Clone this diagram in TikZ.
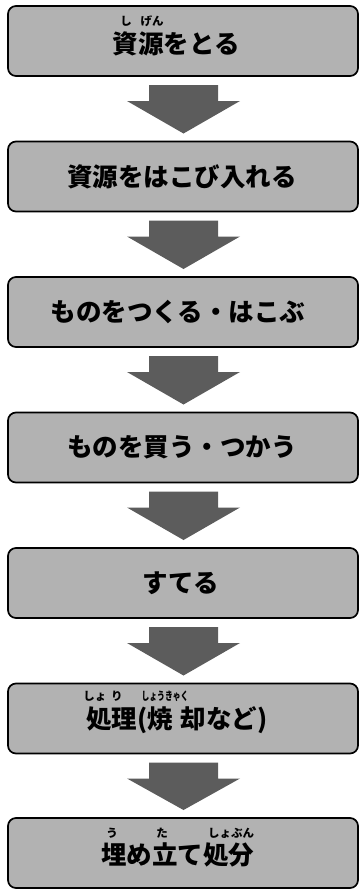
\documentclass[tikz,border=0pt]{standalone}
\usepackage{fontspec}
\newfontfamily\jp{Noto Sans CJK JP}
\usetikzlibrary{calc}
\definecolor{boxgray}{gray}{0.70}
\definecolor{arrowgray}{gray}{0.36}
\tikzset{
 flowbox/.style={draw=black, line width=1.7pt, rounded corners=8pt, fill=boxgray,
   minimum width=350pt, minimum height=70pt, inner sep=0pt, outer sep=0pt},
 maintext/.style={font=\jp\bfseries\fontsize{25.5}{30}\selectfont, inner sep=0pt, anchor=center},
 rubytext/.style={font=\jp\bfseries\fontsize{11.5}{13}\selectfont, inner sep=0pt, anchor=center},
 blockarrow/.style={fill=arrowgray}
}
\newcommand\flowarrow[2]{%
 \fill[blockarrow] ($(#1.south)+(-34,9)$) -- ($(#1.south)+(35,9)$) -- ($(#1.south)+(35,25)$)
   -- ($(#1.south)+(57,25)$) -- ($(#2.north)+(0.5,-8)$) -- ($(#1.south)+(-56,25)$)
   -- ($(#1.south)+(-34,25)$) -- cycle;}
\begin{document}
\begin{tikzpicture}[x=1pt,y=-1pt]
\useasboundingbox (0,0) rectangle (359,889);
\node[flowbox] (b1) at (183,41) {};
\node[flowbox] (b2) at (183,176.5) {};
\node[flowbox] (b3) at (183,312) {};
\node[flowbox] (b4) at (183,447.5) {};
\node[flowbox] (b5) at (183,583) {};
\node[flowbox] (b6) at (183,718.5) {};
\node[flowbox] (b7) at (183,853) {};
\flowarrow{b1}{b2}
\flowarrow{b2}{b3}
\flowarrow{b3}{b4}
\flowarrow{b4}{b5}
\flowarrow{b5}{b6}
\flowarrow{b6}{b7}
% texts
\node[maintext] (t1) at (176.5,44) {資源をとる};
\node[rubytext] (r1a) at (126,21) {し};
\node[rubytext] (r1b) at (152,21) {げん};
\node[maintext] (t2) at (182,176.5) {資源をはこび入れる};
\node[maintext] (t3) at (178,312) {ものをつくる・はこぶ};
\node[maintext] (t4) at (182,447.5) {ものを買う・つかう};
\node[maintext] (t5) at (181,583) {すてる};
\node[maintext] (t6) at (177,720) {処理(焼\hspace{0.3em}却など)};
\node[rubytext] (r6a) at (103,696) {しょ\hspace{0.4em}り};
\node[rubytext] (r6b) at (165,696) {\scalebox{0.68}[1]{しょうきゃく}};
\node[maintext] (t7) at (177.5,855) {埋め立て処分};
\node[rubytext] (r7a) at (112,833) {う};
\node[rubytext] (r7b) at (162,833) {た};
\node[rubytext] (r7c) at (231,833) {しょぶん};
\end{tikzpicture}
\end{document}
